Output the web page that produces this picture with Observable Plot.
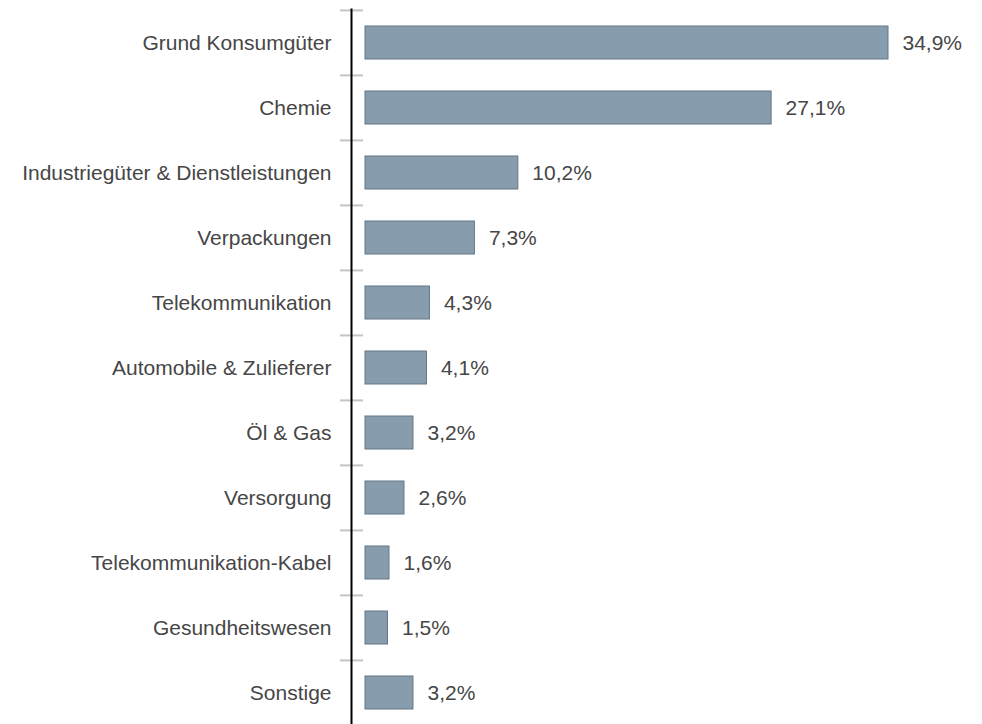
<!DOCTYPE html>
<html>
<head>
<meta charset="utf-8">
<script src="https://cdn.jsdelivr.net/npm/d3@7"></script>
<script src="https://cdn.jsdelivr.net/npm/@observablehq/plot@0.6"></script>
<style>
  html, body { margin: 0; padding: 0; background: #fff; }
  #chart svg { display: block; }
</style>
</head>
<body>
<div id="chart"></div>
<script>
const categories = [
  "Grund Konsumgüter",
  "Chemie",
  "Industriegüter & Dienstleistungen",
  "Verpackungen",
  "Telekommunikation",
  "Automobile & Zulieferer",
  "Öl & Gas",
  "Versorgung",
  "Telekommunikation-Kabel",
  "Gesundheitswesen",
  "Sonstige"
];
const values = [34.9, 27.1, 10.2, 7.3, 4.3, 4.1, 3.2, 2.6, 1.6, 1.5, 3.2];

const data = categories.map((c, i) => ({category: c, value: values[i]}));
const fmt = v => v.toFixed(1).replace(".", ",") + "%";

const W = 982, H = 724;
const yTop = 9, yBottom = 726;
const step = (yBottom - yTop) / categories.length;

const chart = Plot.plot({
  width: W,
  height: H,
  marginLeft: 351,
  marginTop: 9,
  marginBottom: 0,
  marginRight: 0,
  style: {fontFamily: "Liberation Sans, Arial, sans-serif", background: "#fff"},
  x: {domain: [0, 34.9], range: [365, 888], axis: null},
  y: {domain: categories, range: [yTop, yBottom], paddingInner: 0.49, paddingOuter: 0.245, axis: null},
  marks: [
    Plot.barX(data, {x: "value", y: "category", fill: "#879cad", stroke: "#627688", strokeWidth: 1}),
    Plot.text(data, {x: "value", y: "category", text: d => fmt(d.value), dx: 14, textAnchor: "start", fontSize: 21, fill: "#464646"}),
    Plot.axisY({anchor: "left", text: null, label: null, tickSize: 23, dx: 12, dy: -step / 2, stroke: "#c4c4c4", strokeWidth: 2}),
    Plot.axisY({anchor: "left", label: null, tickSize: 0, tickPadding: 20, fontSize: 21, fill: "#464646"}),
    Plot.frame({anchor: "left", stroke: "#000", strokeWidth: 2})
  ]
});
document.getElementById("chart").appendChild(chart);
</script>
</body>
</html>
